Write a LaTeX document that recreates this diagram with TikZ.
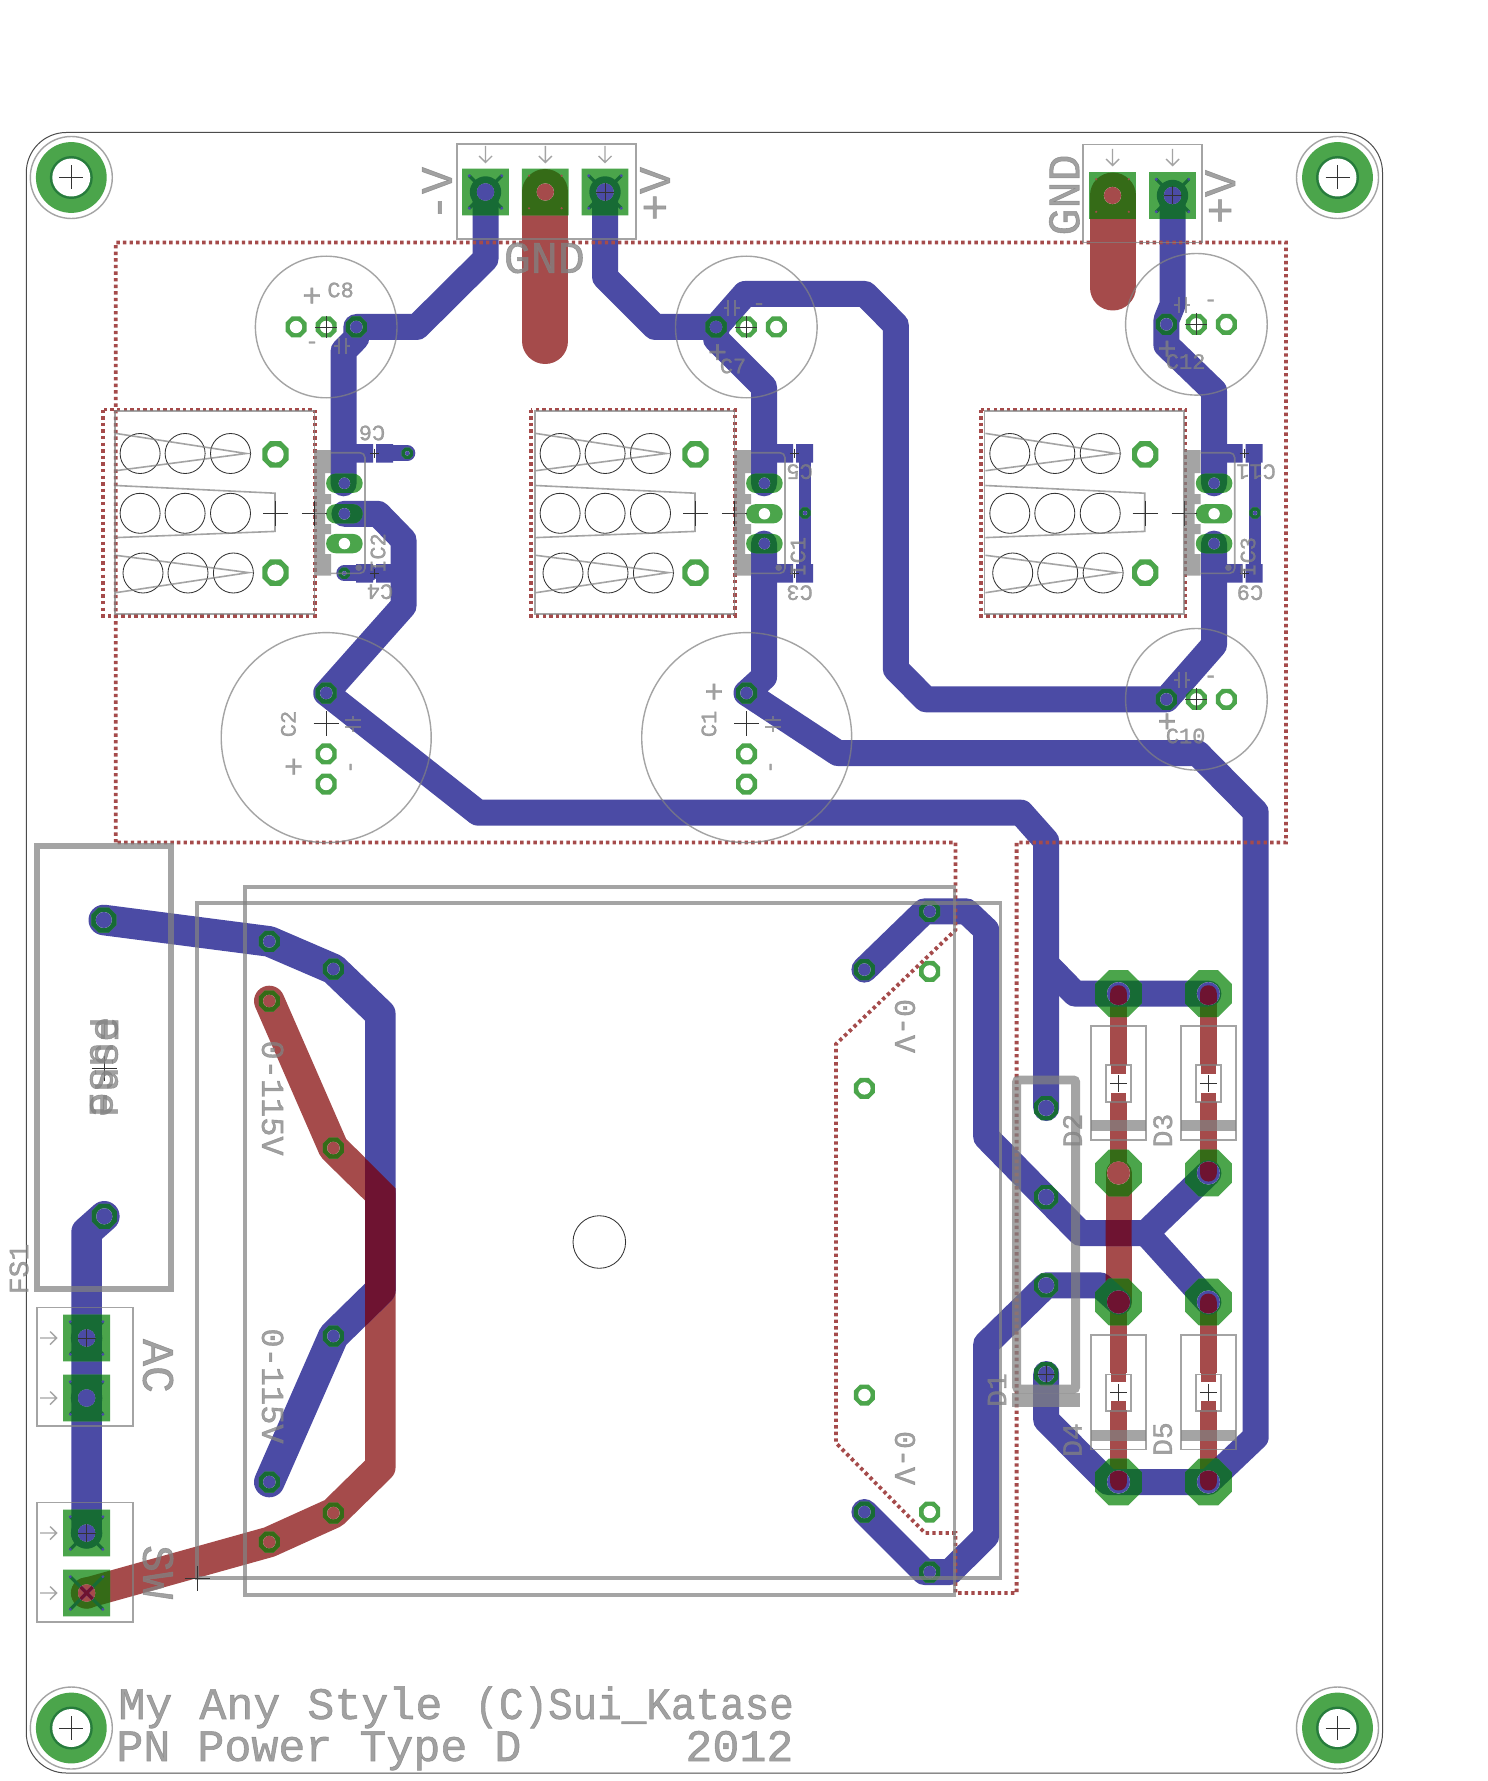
\documentclass[tikz,border=0pt]{standalone}
\usepackage{fontspec}
\setmainfont{Liberation Mono}[BoldFont={Liberation Mono},BoldFeatures={FakeBold=1.2}]
\definecolor{bluec}{HTML}{4B4BA5}
\definecolor{redc}{HTML}{A54B4B}
\definecolor{greenc}{HTML}{4BA54B}
\definecolor{dkg}{HTML}{176B35}
\definecolor{olv}{HTML}{356B17}
\definecolor{drk}{HTML}{6E1331}
\definecolor{silkc}{HTML}{828282}
\definecolor{blk}{HTML}{333333}
\colorlet{bc}{bluec}
\colorlet{rc}{redc}
\tikzset{
  trk/.style={line width=13pt,line cap=round,line join=round,draw=bc},
  wtrk/.style={line width=15.3pt,line cap=round,line join=round,draw=bc},
  rwtrk/.style={line width=15.3pt,line cap=round,line join=round,draw=rc},
  silk/.style={draw=silkc,draw opacity=.72,line width=.8pt},
  silkfat/.style={draw=silkc,draw opacity=.72,line width=3.2pt},
  silkfill/.style={fill=silkc,fill opacity=.72},
  thincirc/.style={draw=silkc,draw opacity=.72,line width=.7pt},
  blkline/.style={draw=blk,line width=.42pt},
  restrict/.style={draw=redc,line width=1.9pt,dash pattern=on 1.7pt off 1.6pt},
  slab/.style={text=silkc,text opacity=.75,inner sep=0pt},
}
\newcommand{\fs}[1]{\fontsize{#1}{#1}\bfseries\selectfont}
% path pieces
\def\oct#1#2#3{({#1-#3},{#2-.414*#3}) -- ({#1-.414*#3},{#2-#3}) -- ({#1+.414*#3},{#2-#3}) -- ({#1+#3},{#2-.414*#3}) -- ({#1+#3},{#2+.414*#3}) -- ({#1+.414*#3},{#2+#3}) -- ({#1-.414*#3},{#2+#3}) -- ({#1-#3},{#2+.414*#3}) -- cycle }
\def\obl#1#2{[rounded corners=4.8pt] ({#1-18.3},{#2-9.65}) rectangle ({#1+18.3},{#2+9.65}) [sharp corners] }
\def\sq#1#2{({#1-23.4},{#2-23.4}) rectangle ({#1+23.4},{#2+23.4}) }
\def\cir#1#2#3{(#1,#2) circle[radius=#3] }
% pads by module offset
\def\modpads#1{\oct{275.5+#1}{454.4}{13.2} \oct{275.5+#1}{572.6}{13.2} \obl{344.4+#1}{483.3} \obl{344.4+#1}{513.8} \obl{344.4+#1}{543.6} }
\def\modholes#1{\cir{275.5+#1}{454.4}{8.2} \cir{275.5+#1}{572.6}{8.2} \cir{344.4+#1}{483.3}{5.7} \cir{344.4+#1}{513.8}{5.7} \cir{344.4+#1}{543.6}{5.7} }
\def\padsA{\modpads{0} \modpads{420} \modpads{869.7}
 \oct{296}{327}{10.5} \oct{326.2}{327}{10.5} \oct{356.3}{327}{10.5}
 \oct{716}{327}{10.5} \oct{746.3}{327}{10.5} \oct{776.3}{327}{10.5}
 \oct{1166.4}{324.3}{10.5} \oct{1196.4}{324.3}{10.5} \oct{1226.4}{324.3}{10.5}
 \oct{1166.4}{699.3}{10.5} \oct{1196.4}{699.3}{10.5} \oct{1226.4}{699.3}{10.5}
 \oct{326.2}{693}{10.5} \oct{326.2}{753.9}{10.5} \oct{326.2}{784}{10.5}
 \oct{746.5}{693}{10.5} \oct{746.5}{753.9}{10.5} \oct{746.5}{784}{10.5}}
\def\padsB{\oct{407.3}{453.3}{5.6} \oct{344.3}{573.3}{5.6} \oct{805}{513}{5.6} \oct{1255}{513}{5.6}
 \oct{103.8}{920}{12.5} \oct{104.3}{1216.3}{12.5}
 \oct{269.3}{941.4}{10.5} \oct{333.4}{969}{10.5} \oct{269.3}{1001}{10.5} \oct{333.4}{1148}{10.5}
 \oct{333.4}{1336}{10.5} \oct{269.3}{1482}{10.5} \oct{333.4}{1513}{10.5} \oct{269.3}{1542}{10.5}
 \oct{864.4}{969.6}{10.5} \oct{929.7}{911.4}{10.5} \oct{929.7}{971.4}{10.5} \oct{864.4}{1088.4}{10.5}
 \oct{864.4}{1395}{10.5} \oct{929.7}{1512}{10.5} \oct{864.4}{1512}{10.5} \oct{929.7}{1572}{10.5}
 \oct{1046.2}{1108}{12} \oct{1046.2}{1197}{12} \oct{1046.2}{1285.3}{12} \oct{1046.2}{1374}{12}}
\def\padsC{\oct{1118.5}{993.6}{23.4} \oct{1208.4}{993.6}{23.4} \oct{1118.5}{1173}{23.4} \oct{1208.4}{1173}{23.4}
 \oct{1118.5}{1302}{23.4} \oct{1208.4}{1302}{23.4} \oct{1118.5}{1482}{23.4} \oct{1208.4}{1482}{23.4}
 \sq{485.5}{192} \sq{545.3}{192} \sq{605}{192} \sq{1112.5}{195.5} \sq{1172.5}{195.5}
 \sq{86.6}{1338} \sq{86.6}{1398} \sq{86.6}{1533} \sq{86.6}{1593}}
\def\holesA{\modholes{0} \modholes{420} \modholes{869.7}
 \cir{296}{327}{6.2} \cir{326.2}{327}{6.2} \cir{356.3}{327}{6.2}
 \cir{716}{327}{6.2} \cir{746.3}{327}{6.2} \cir{776.3}{327}{6.2}
 \cir{1166.4}{324.3}{6.2} \cir{1196.4}{324.3}{6.2} \cir{1226.4}{324.3}{6.2}
 \cir{1166.4}{699.3}{6.2} \cir{1196.4}{699.3}{6.2} \cir{1226.4}{699.3}{6.2}
 \cir{326.2}{693}{6.2} \cir{326.2}{753.9}{6.2} \cir{326.2}{784}{6.2}
 \cir{746.5}{693}{6.2} \cir{746.5}{753.9}{6.2} \cir{746.5}{784}{6.2}}
\def\holesB{\cir{407.3}{453.3}{2.2} \cir{344.3}{573.3}{2.2} \cir{805}{513}{2.2} \cir{1255}{513}{2.2}
 \cir{103.8}{920}{8} \cir{104.3}{1216.3}{8}
 \cir{269.3}{941.4}{6.2} \cir{333.4}{969}{6.2} \cir{269.3}{1001}{6.2} \cir{333.4}{1148}{6.2}
 \cir{333.4}{1336}{6.2} \cir{269.3}{1482}{6.2} \cir{333.4}{1513}{6.2} \cir{269.3}{1542}{6.2}
 \cir{864.4}{969.6}{6.2} \cir{929.7}{911.4}{6.2} \cir{929.7}{971.4}{6.2} \cir{864.4}{1088.4}{6.2}
 \cir{864.4}{1395}{6.2} \cir{929.7}{1512}{6.2} \cir{864.4}{1512}{6.2} \cir{929.7}{1572}{6.2}
 \cir{1046.2}{1108}{8} \cir{1046.2}{1197}{8} \cir{1046.2}{1285.3}{8} \cir{1046.2}{1374}{8}}
\def\holesC{\cir{1118.5}{993.6}{11.5} \cir{1208.4}{993.6}{11.5} \cir{1118.5}{1173}{11.5} \cir{1208.4}{1173}{11.5}
 \cir{1118.5}{1302}{11.5} \cir{1208.4}{1302}{11.5} \cir{1118.5}{1482}{11.5} \cir{1208.4}{1482}{11.5}
 \cir{485.5}{192}{8.6} \cir{545.3}{192}{8.6} \cir{605}{192}{8.6} \cir{1112.5}{195.5}{8.6} \cir{1172.5}{195.5}{8.6}
 \cir{86.6}{1338}{8.6} \cir{86.6}{1398}{8.6} \cir{86.6}{1533}{8.6} \cir{86.6}{1593}{8.6}}
% copper on the blue layer
\def\pinblue#1#2{\fill[bc] (#1,#2) circle[radius=15.7];
  \draw[bc,line width=1.6pt] ({#1-16.3},{#2-16.3}) -- ({#1+16.3},{#2+16.3}) ({#1+16.3},{#2-16.3}) -- ({#1-16.3},{#2+16.3});}
\def\smdrects#1{\fill[bc] ({356+#1},444) rectangle ({373+#1},462.7) ({376+#1},444) rectangle ({393+#1},462.7)
   ({356+#1},564) rectangle ({373+#1},582.7) ({376+#1},564) rectangle ({393+#1},582.7);}
\def\bluepaths{%
  \draw[trk] (485.5,192) -- (485.5,259) -- (417,327) -- (356.3,327) -- (356.3,338) -- (343.6,351) -- (343.6,483.3);
  \smdrects{0}\smdrects{420}\smdrects{869.7}
  \draw[bc,line width=8pt,line cap=round] (385,453.3) -- (407.3,453.3);
  \draw[bc,line width=8pt,line cap=round] (344.3,573.3) -- (370,573.3);
  \draw[trk] (344.4,513.8) -- (378,513.8) -- (403.5,540) -- (403.5,606) -- (326.2,693) -- (478,812.7) -- (1021,812.7) -- (1046.2,841) -- (1046.2,1108);
  \draw[trk] (605,192) -- (605,277) -- (655,327) -- (716,327) -- (745,294) -- (865,294) -- (895.8,325) -- (895.8,669) -- (925.8,699.3) -- (1166.4,699.3) -- (1214,645) -- (1214,543.6);
  \draw[trk] (716,327) -- (716,339) -- (764,387) -- (764,483.3);
  \draw[trk] (764,543.6) -- (764,677) -- (746.5,693) -- (837.7,753) -- (1197.4,753) -- (1255.7,812) -- (1255.7,1437) -- (1208.4,1482) -- (1108,1482) -- (1046.2,1420) -- (1046.2,1374);
  \draw[trk] (1172.5,195.5) -- (1172.5,305) -- (1166.4,320) -- (1166.4,345) -- (1214,391) -- (1214,483.3);
  \draw[trk] (1046.2,964) -- (1075,993.6) -- (1208.4,993.6);
  \draw[trk] (864.4,969.6) -- (924.4,911.4) -- (966.5,911.4) -- (986.2,930) -- (986.2,1137) -- (1080.4,1233) -- (1146,1233);
  \draw[trk] (1208.4,1173) -- (1146,1233) -- (1208.4,1302);
  \draw[trk] (1118.5,1302) -- (1100,1285.3) -- (1046.2,1285.3) -- (986.2,1344) -- (986.2,1536) -- (950,1572) -- (924.4,1572) -- (864.4,1512);
  \draw[bc,line width=6pt] (805,453) -- (805,573);
  \draw[bc,line width=6pt] (1254.7,453) -- (1254.7,573);
  \draw[wtrk] (103.8,920) -- (269.3,941.4) -- (333.4,969) -- (380.3,1014) -- (380.3,1290) -- (333.4,1336) -- (269.3,1482);
  \draw[wtrk] (104.3,1216.3) -- (86.6,1232) -- (86.6,1533);
  \pinblue{485.5}{192}\pinblue{605}{192}\pinblue{1172.5}{195.5}
  \pinblue{86.6}{1338}\pinblue{86.6}{1398}\pinblue{86.6}{1533}
  \draw[bc,line width=1.6pt] (70.3,1576.7) -- (102.9,1609.3) (102.9,1576.7) -- (70.3,1609.3);
}
% copper on the red layer
\def\reddiode#1#2{%
  \fill[rc] (#1,#2) circle[radius=8.35];
  \fill[rc] ({#1-8.35},#2) rectangle ({#1+8.35},{#2+71});
  \fill[rc] ({#1-7.5},{#2+71}) rectangle ({#1+7.5},{#2+80.4});
  \fill[rc] ({#1-7.5},{#2+99.1}) rectangle ({#1+7.5},{#2+108});
  \fill[rc] ({#1-8.35},{#2+108}) rectangle ({#1+8.35},{#2+179.5});
  \fill[rc] (#1,{#2+179.5}) circle[radius=8.35];}
\def\redpaths{%
  \draw[draw=rc,line width=23pt,line cap=round] (545.3,192) -- (545.3,341);
  \draw[draw=rc,line width=23pt,line cap=round] (1112.5,195.5) -- (1112.5,287.5);
  \draw[rwtrk] (269.3,1001) -- (333.4,1148) -- (380.3,1194) -- (380.3,1467) -- (333.4,1513) -- (269.3,1542) -- (86.6,1593);
  \fill[rc] (86.6,1593) circle[radius=15.7];
  \reddiode{1118.5}{993.6}\reddiode{1208.4}{993.6}\reddiode{1118.5}{1302}\reddiode{1208.4}{1302}
  \draw[draw=rc,line width=13pt,line cap=round] (1118.5,1173) -- (1118.5,1302);
}
\def\overlapzone{%
  \begin{scope}
    \clip (365,1158) -- (395.6,1188.5) -- (395.6,1480) -- (365,1480) -- cycle
      (1105.5,1160) rectangle (1131.5,1315)
      [rounded corners=4pt] (1110.15,985.25) rectangle (1126.85,1020)
      (1200.05,985.25) rectangle (1216.75,1020)
      (1200.05,1140) rectangle (1216.75,1181.5)
      (1200.05,1293.6) rectangle (1216.75,1330)
      (1110.15,1450) rectangle (1126.85,1490.4)
      (1200.05,1450) rectangle (1216.75,1490.4)
      [sharp corners] (66,1572) rectangle (107,1614);
    \colorlet{bc}{drk}
    \bluepaths
  \end{scope}}
% silk pieces
\def\crossb#1#2#3{\draw[blkline] ({#1-#3},#2) -- ({#1+#3},#2) (#1,{#2-#3}) -- (#1,{#2+#3});}
\def\mounthole#1#2{%
  \fill[greenc] (#1,#2) circle[radius=35.4];
  \fill[dkg!70!greenc] (#1,#2) circle[radius=21.5];
  \fill[white] (#1,#2) circle[radius=19];
  \draw[thincirc] (#1,#2) circle[radius=41];
  \crossb{#1}{#2}{12}}
\def\capsym#1#2#3{\begin{scope}[shift={(#1,#2)},rotate=#3]
  \draw[silk,line width=1pt] (-3.5,-8) -- (-3.5,8) (3.5,-8) -- (3.5,8) (-8,0) -- (-3.5,0) (3.5,0) -- (8,0);
  \end{scope}}
\def\darrow#1#2{\draw[silk,line width=.7pt] (#1,#2) -- (#1,{#2+16.5}) ({#1-6.5},{#2+10}) -- (#1,{#2+16.5}) -- ({#1+6.5},{#2+10});}
\def\rarrow#1#2{\draw[silk,line width=.7pt] (40,#2) -- (56.7,#2) (50,{#2-6.5}) -- (56.7,#2) -- (50,{#2+6.5});}
\def\module#1{%
  \draw[silk] ({114.8+#1},411) rectangle ({314.5+#1},614);
  \foreach \xx in {140.1,185.1,230.5}{
    \draw[blkline] ({\xx+#1},453.5) circle[radius=20];
    \draw[blkline] ({\xx+#1},513.3) circle[radius=20];}
  \foreach \xx in {143,188,233.4}{
    \draw[blkline] ({\xx+#1},573) circle[radius=20];}
  \draw[silk] ({115.7+#1},433.4) -- ({246.3+#1},453.5) -- ({115.7+#1},470.7);
  \draw[silk] ({115.7+#1},555.3) -- ({248.7+#1},572.6) -- ({115.7+#1},592.7);
  \draw[silk] ({115.7+#1},485.5) -- ({275+#1},493.2) -- ({275+#1},531.4) -- ({115.7+#1},537.6);
  \crossb{275.5+#1}{513.3}{12.5}\crossb{314.3+#1}{513.3}{12.5}
  \fill[silkfill] ({315+#1},450) -- ({331+#1},450) -- ({331+#1},473) -- ({325+#1},473) -- ({325+#1},494) -- ({331+#1},494) -- ({331+#1},504) -- ({325+#1},504) -- ({325+#1},524) -- ({331+#1},524) -- ({331+#1},534) -- ({325+#1},534) -- ({325+#1},554) -- ({331+#1},554) -- ({331+#1},575.7) -- ({315+#1},575.7) -- cycle;
  \draw[silk,rounded corners=2.5pt] ({331+#1},452.7) -- ({365+#1},452.7) -- ({365+#1},573.3) -- ({331+#1},573.3);
  \fill[silkfill] ({358.7+#1},567.7) circle[radius=3.3];
  \crossb{374.3+#1}{453.3}{4.5}\crossb{374.3+#1}{573.3}{4.5}
}
\def\diode#1#2{%
  \draw[silk] ({#1-27.5},#2) rectangle ({#1+27.5},{#2+114.5});
  \fill[silkfill] ({#1-27.5},{#2+94.5}) rectangle ({#1+27.5},{#2+105.5});
  \draw[silk] ({#1-12.5},{#2+39.5}) rectangle ({#1+12.5},{#2+76});
  \crossb{#1}{#2+57.7}{8.5}}
\begin{document}
\begin{tikzpicture}[x=.5pt,y=-.5pt]
\path[use as bounding box,fill=white] (0,0) rectangle (1487,1781);
% board outline
\draw[draw=black!70,line width=.5pt,rounded corners=20pt] (26.3,132.5) rectangle (1382.5,1773);
% tracks
\redpaths
\bluepaths
\overlapzone
% pads
\fill[greenc] \padsA;
\fill[greenc] \padsB;
\fill[greenc] \padsC;
\begin{scope}
  \clip \padsA \padsB \padsC;
  \colorlet{rc}{olv}\redpaths
  \colorlet{bc}{dkg}\bluepaths
\end{scope}
\begin{scope}
  \clip \holesA \holesB \holesC;
  \fill[white] (0,0) rectangle (1487,1781);
  \redpaths
  \bluepaths
  \overlapzone
\end{scope}
% small corner marks of the connector pins
\foreach \px/\py in {545.3/192,1112.5/195.5}{
  \foreach \dx in {-16.3,16.3}{\foreach \dy in {-16.3,16.3}{
    \fill[redc] ({\px+\dx},{\py+\dy}) circle[radius=1.2];}}}
\foreach \px/\py in {485.5/192,605/192,1172.5/195.5,86.6/1338,86.6/1398,86.6/1533,86.6/1593}{
  \foreach \dx in {-16.3,16.3}{\foreach \dy in {-16.3,16.3}{
    \fill[bluec] ({\px+\dx},{\py+\dy}) circle[radius=1.6];}}}
% mounting holes
\mounthole{71.3}{177.5}\mounthole{1337.5}{177.5}\mounthole{71.3}{1728}\mounthole{1337.5}{1728}
% restrict outlines
\draw[restrict] (115.7,842.4) -- (115.7,242.5) -- (1286,242.5) -- (1286,842.4) -- (1016.6,842.4) -- (1016.6,1593) -- (955.5,1593) -- (955.5,1533) -- (925,1533) -- (836,1443) -- (836,1044) -- (955.5,930) -- (955.5,842.4) -- cycle;
\draw[restrict] (102.8,409.5) rectangle (314.7,615.6);
\draw[restrict] (530.8,409.5) rectangle (734.7,615.6);
\draw[restrict] (981,409.5) rectangle (1185.5,615.6);
% modules
\module{0}\module{420}\module{869.7}
% capacitor circles
\draw[thincirc] (326.2,327) circle[radius=70.8];
\draw[thincirc] (746.3,327) circle[radius=70.8];
\draw[thincirc] (1196.4,324.3) circle[radius=70.8];
\draw[thincirc] (1196.4,699.3) circle[radius=70.8];
\draw[thincirc] (326.2,737.6) circle[radius=105];
\draw[thincirc] (746.7,737.6) circle[radius=105];
\capsym{342}{346}{0}\capsym{731.8}{308}{0}\capsym{1182}{304.7}{0}\capsym{1182}{679.7}{0}
\capsym{353}{723.7}{90}\capsym{773}{723.7}{90}
% connector bodies
\draw[silk] (456.8,144) rectangle (636,239.2);
\draw[silk] (1083,144.5) rectangle (1202,242.5);
\draw[silk] (36.8,1307.5) rectangle (133,1425.7);
\draw[silk] (36.8,1502.5) rectangle (133,1622);
\darrow{485.5}{146}\darrow{545.3}{146}\darrow{605}{146}\darrow{1112.5}{149}\darrow{1172.5}{149}
\rarrow{0}{1338}\rarrow{0}{1398}\rarrow{0}{1533}\rarrow{0}{1593}
% fuse and transformer frames
\draw[silkfat] (36.8,846) rectangle (170.8,1289);
\draw[silk,line width=1.6pt] (245,887) rectangle (954.7,1595);
\draw[silk,line width=1.6pt] (197,903) rectangle (1000.7,1578);
\draw[blkline] (599.3,1242) circle[radius=26.3];
% heavy diode frame
\draw[silk,line width=4.4pt,rounded corners=1pt] (1016.6,1080) -- (1075.6,1080) -- (1075.6,1389) -- (1016.6,1389) -- cycle;
\fill[silkfill] (1012.2,1393.4) rectangle (1080,1407);
% diodes
\diode{1118.5}{1025.7}\diode{1208.4}{1025.7}\diode{1118.5}{1335}\diode{1208.4}{1335}
% crosses
\crossb{326.2}{327}{11}\crossb{746.3}{327}{11}\crossb{1196.4}{324.3}{11}\crossb{1196.4}{699.3}{11}
\crossb{326.2}{723.7}{12.5}\crossb{746.5}{723.7}{12.5}
\crossb{605}{192}{9}\crossb{1172.5}{195.5}{9}\crossb{86.6}{1338}{9}\crossb{86.6}{1533}{9}
\crossb{1046.2}{1374}{9}\crossb{104.3}{1068}{12.5}\crossb{197}{1578}{12.5}
% texts
\node[slab,font=\fs{22.5},rotate=90] (t1) at (437,194) {-V};
\node[slab,font=\fs{22.5},rotate=90] (t2) at (655,194) {+V};
\node[slab,font=\fs{22.5}] (t3) at (544.3,258) {GND};
\node[slab,font=\fs{22.5},rotate=90] (t4) at (1064.4,195) {GND};
\node[slab,font=\fs{22.5},rotate=90] (t5) at (1220.2,197) {+V};
\node[slab,font=\fs{11}] (c8) at (340.6,290) {C8};
\node[slab,font=\fs{11},rotate=180] (c6) at (372,433) {C6};
\node[slab,font=\fs{11},rotate=180] (c4) at (380,591.7) {C4};
\node[slab,font=\fs{11},rotate=90] (ic2) at (378,553) {IC2};
\node[slab,font=\fs{11},rotate=180] (c5) at (799.6,471.7) {C5};
\node[slab,font=\fs{11},rotate=90] (ic1) at (798,556.8) {IC1};
\node[slab,font=\fs{11},rotate=180] (c3) at (799.6,592.7) {C3};
\node[slab,font=\fs{11},rotate=180] (c11) at (1256,471.7) {C11};
\node[slab,font=\fs{11},rotate=90] (ic3) at (1248,556.8) {IC3};
\node[slab,font=\fs{11},rotate=180] (c9) at (1250,592.7) {C9};
\node[slab,font=\fs{11}] (c7) at (733,366) {C7};
\node[slab,font=\fs{11}] (c12) at (1185.6,361.6) {C12};
\node[slab,font=\fs{11}] (c10) at (1185.6,736) {C10};
\node[slab,font=\fs{11},rotate=90] (c2) at (288.4,724) {C2};
\node[slab,font=\fs{11},rotate=90] (c1) at (708.9,724) {C1};
\foreach \nn/\px/\py in {a/311.9/297,b/717.5/353.5,c/1167/350,d/1167/722.7,e/293.7/768,f/714/693}{
  \node[slab,font=\fs{16}] (plus\nn) at (\px,\py) {+};}
\foreach \nn/\px/\py/\rr in {a/312/345/0,b/759/306.6/0,c/1210.7/303/0,d/1210.7/679/0,e/353/767/90,f/773/767/90}{
  \node[slab,font=\fs{11},rotate=\rr] (minus\nn) at (\px,\py) {-};}
\node[slab,font=\fs{16},rotate=-90] (v1) at (272.6,1098) {0-115V};
\node[slab,font=\fs{16},rotate=-90] (v2) at (272.6,1386) {0-115V};
\node[slab,font=\fs{15},rotate=-90] (u1) at (905,1026) {0-V};
\node[slab,font=\fs{15},rotate=-90] (u2) at (905,1458) {0-V};
\node[slab,font=\fs{22.5},rotate=-90] (ac) at (158,1366) {AC};
\node[slab,font=\fs{22.5},rotate=-90] (sw) at (158,1572) {SW};
\node[slab,font=\fs{14},rotate=90] (fs1) at (19,1269) {FS1};
\node[slab,font=\fs{21},rotate=90] (fu1) at (104,1067) {Fuse};
\node[slab,font=\fs{21},rotate=-90] (fu2) at (104,1067) {Fuse};
\node[slab,font=\fs{14},rotate=90] (d1) at (997,1390) {D1};
\node[slab,font=\fs{14},rotate=90] (d2) at (1072.5,1130.5) {D2};
\node[slab,font=\fs{14},rotate=90] (d3) at (1162.8,1130.5) {D3};
\node[slab,font=\fs{14},rotate=90] (d4) at (1072.5,1440) {D4};
\node[slab,font=\fs{14},rotate=90] (d5) at (1162.8,1439) {D5};
\node[slab,font=\fs{22.5},anchor=base west] (l1) at (118,1719) {My Any Style};
\node[slab,font=\fs{22.5},anchor=base west] (l2) at (474,1719) {\scalebox{.91}[1]{(C)Sui\_Katase}};
\node[slab,font=\fs{22.5},anchor=base west] (l3) at (116,1761) {PN Power Type D};
\node[slab,font=\fs{22.5},anchor=base west] (l4) at (685,1761) {2012};
\end{tikzpicture}
\end{document}
